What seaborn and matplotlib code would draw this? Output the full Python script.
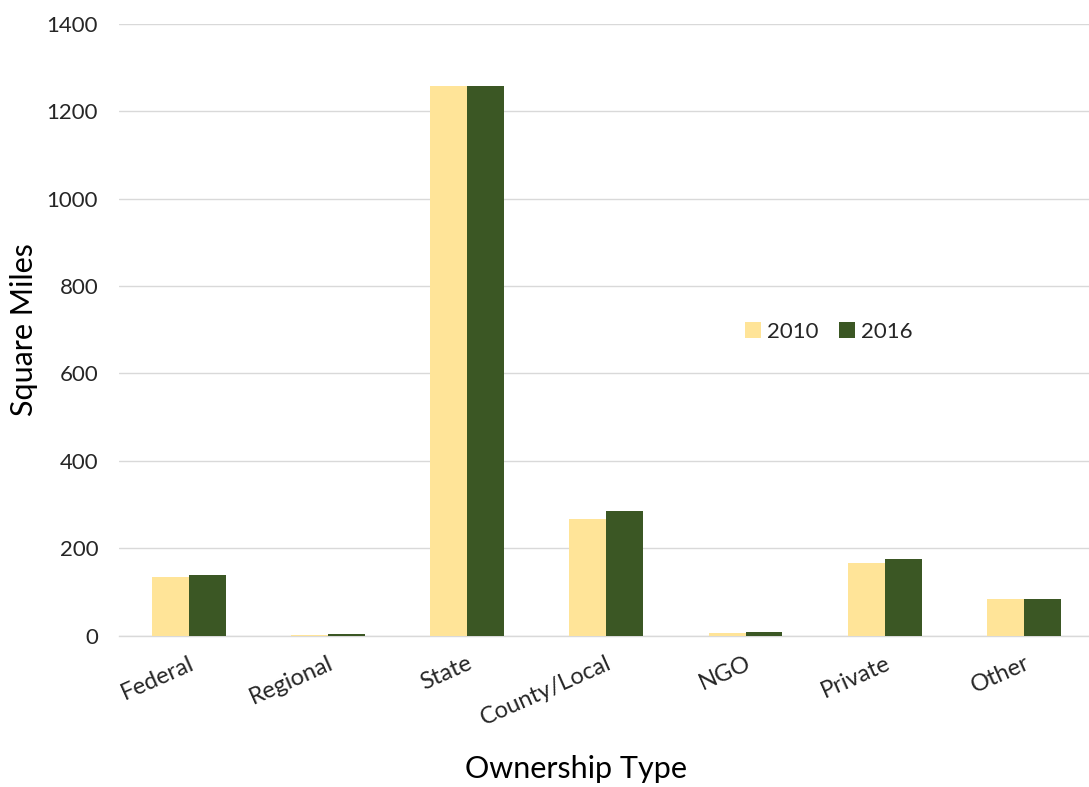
import matplotlib
matplotlib.use("Agg")
import matplotlib.pyplot as plt
import seaborn as sns
import pandas as pd

categories = ["Federal", "Regional", "State", "County/Local", "NGO", "Private", "Other"]
values_2010 = [135, 3, 1257, 268, 6, 167, 85]
values_2016 = [139, 5, 1257, 285, 9, 175, 85]
years = ["2010", "2016"]

df = pd.DataFrame({
    "Ownership Type": categories * 2,
    "Square Miles": values_2010 + values_2016,
    "Year": [years[0]] * len(categories) + [years[1]] * len(categories),
})

sns.set_theme(style="white")
plt.rcParams['font.family'] = ['Lato', 'DejaVu Sans']

fig = plt.figure(figsize=(10.89, 7.87), dpi=100)
ax = fig.add_axes([0.1093, 0.192, 0.895, 0.778])

palette = {"2010": "#FFE498", "2016": "#3B5724"}
sns.barplot(data=df, x="Ownership Type", y="Square Miles", hue="Year",
            palette=palette, width=0.53, gap=0, saturation=1, ax=ax,
            linewidth=0, edgecolor="none", zorder=3)

ax.set_ylim(0, 1400)
ax.set_xlim(-0.5, 6.5)
ax.set_yticks(range(0, 1401, 200))
ax.yaxis.grid(True, color="#D9D9D9", linewidth=1, zorder=0)
ax.set_axisbelow(True)
for s in ["top", "right", "left"]:
    ax.spines[s].set_visible(False)
ax.spines["bottom"].set_color("#D9D9D9")
ax.spines["bottom"].set_linewidth(1.0)
ax.spines["bottom"].set_zorder(1)

txt = "#262626"
ax.tick_params(axis="y", labelsize=16, colors=txt, length=0, pad=15)
ax.tick_params(axis="x", labelsize=17, colors=txt, length=0, pad=12)
plt.setp(ax.get_xticklabels(), rotation=24, ha="right", rotation_mode="anchor")

ax.set_xlabel("Ownership Type", fontsize=22, color="black")
ax.set_ylabel("Square Miles", fontsize=22, color="black")
ax.xaxis.set_label_coords(0.469, -0.194)
ax.yaxis.set_label_coords(-0.083, 0.5)

leg = ax.legend(loc="center", bbox_to_anchor=(0.728, 0.497), ncol=2, frameon=False,
                fontsize=16, handlelength=0.75, handleheight=0.75, columnspacing=0.9,
                handletextpad=0.25)
for t in leg.get_texts():
    t.set_color(txt)

fig.savefig("out.png", dpi=100)
